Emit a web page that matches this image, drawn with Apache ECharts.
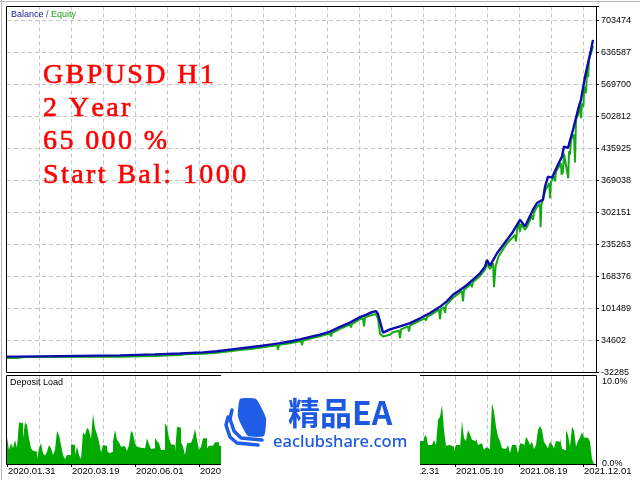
<!DOCTYPE html>
<html>
<head>
<meta charset="utf-8">
<title>GBPUSD H1 Balance / Equity</title>
<script src="https://cdn.jsdelivr.net/npm/echarts@6.0.0/dist/echarts.min.js"></script>
<style>
html,body{margin:0;padding:0;background:#ffffff;}
#chart{width:640px;height:480px;}
</style>
</head>
<body>
<div id="chart"></div>
<script>
// ---------------- data ----------------
const yTickLabels = ['-32285','34602','101489','168376','235263','302151','369038','435925','502812','569700','636587','703474'];
const yAxisMin = -32285;
const yAxisStep = 66887.18;
const xDateLabels = ['2020.01.31','2020.03.19','2020.06.01','2020.07.20','2020.09.07','2020.10.26','2020.12.31','2021.05.10','2021.08.19','2021.12.01'];
const loadTickLabels = ['0.0%', '10.0%'];
const titleLines = ['GBPUSD H1', '2 Year', '65 000 %', 'Start Bal: 1000'];

// time index (one unit = one bar slot), balance values
const balanceT = [0,5,5.5,56.5,57,74,74.5,86.5,87,98,98.5,105,105.5,115.5,121.5,126.5,131.5,136.5,141.5,146.5,151.5,156.5,161.5,166.5,171.5,176.5,179.5,182.5,184.5,185.5,188,191.5,196.5,201.5,206.5,211.5,216.5,220,223,226.5,229.5,233,236.5,239,240,241.5,245,250,253,256.5,259,263,265,268,269,270.5,272.5,275,277.5,278.5,280.5,283,285.5,287,289,290.5,292,293];
const balanceV = [1000,1000,3000,3500,5200,5500,6800,7500,9000,9800,11000,12000,13500,17500,20500,23000,26000,29000,32500,37000,42000,47000,53000,63000,72000,83500,88000,94000,96000,90000,51000,58000,64000,71000,81000,92000,105000,117000,130000,140000,149000,162000,175000,189000,203000,191000,217000,245000,262000,287000,273000,308000,322000,329000,356000,377000,375000,398000,419000,440000,437000,475000,517000,538000,586000,614000,642000,663000];

const equityT = [0,5,5.5,9,9.5,10,56.5,57,74,74.5,79,79.5,80,86.5,87,89,89.5,90,98,98.5,105,105.5,108,108.5,109,115.5,121.5,126.5,131.5,135,135.5,136,141.5,147,147.5,148,151.5,156.5,161.5,162,162.5,166.5,171.5,172,172.5,176.5,178,178.5,179,182.5,184.5,185.5,186.5,188,189,191.5,193,196,196.5,197,200.5,201,201.5,206.5,209,209.5,210,211.5,216,216.5,217,218.5,219,219.5,223,227.5,228,228.5,232,232.5,233,236.5,239,240,241.5,243,243.5,244.3,245.5,246,250,254,254.5,255,256,256.5,257,259,259.5,260,262.5,263,263.5,265,266.5,266.8,267.2,268,269,271.2,271.5,272,273.7,274,274.5,277,277.3,278,278.5,279.5,280.6,281,281.5,282,283.5,284,284.5,285.5,286.7,287,287.5,288.2,288.6,289.5,290,290.6,291,292,292.5,293];
const equityV = [-2000,-2000,0,0,-2500,0,500,2000,2000,3500,3500,1000,3500,4500,6000,6000,3500,6000,6800,8000,9000,10500,10500,7000,10500,14000,17000,19500,22500,24500,15000,25500,29000,33500,25000,34000,38500,43500,49500,43000,50000,59000,68000,61800,69000,79000,81500,63900,83000,88000,90000,80000,48600,43000,47000,46500,52000,55000,39600,58000,64000,53400,66000,76000,81000,76400,84000,87000,99000,79300,100000,104000,92500,108000,124000,138000,116100,140000,153000,146000,157000,169000,183000,196000,184000,196000,146200,189300,206800,212000,238000,255000,241500,265000,280000,262400,278000,266000,262000,272000,296000,286900,302000,314000,320000,271600,318000,322000,347000,364000,332200,366000,378000,367000,388000,405000,381000,387800,425000,428000,374000,430000,422800,455000,465000,406700,498000,505000,525000,499500,530000,523700,565000,551700,598000,585200,622000,635300,642000,650000];

// deposit load (%), one value per bar slot
const loadLeftStart = 0;
const loadLeft = [3.0,1.6,2.35,1.78,2.73,1.86,4.73,4.62,2.92,4.73,
  4.43,2.92,1.78,1.5,1.4,0.57,1.78,2.35,1.21,0.95,
  1.4,2.16,1.78,1.02,1.59,3.75,3.3,2.16,1.02,0.57,
  1.02,1.02,2.24,2.16,1.02,1.97,1.02,0.57,3.6,3.3,
  4.13,3.86,2.84,5.68,4.05,3.37,2.54,1.32,2.16,2.08,
  1.59,1.21,1.4,2.54,3.86,2.73,2.46,1.97,2.05,1.97,
  1.48,2.16,3.75,3.49,2.35,1.97,1.86,1.97,1.78,1.97,
  2.92,2.24,1.7,1.78,2.92,2.61,2.35,1.59,1.59,4.62,
  4.24,2.92,2.24,2.16,1.32,4.24,4.13,2.54,1.97,1.02,
  2.35,2.42,2.54,2.99,3.98,2.73,1.59,1.97,2.92,2.92,
  1.78,2.08,2.08,2.08,2.46,2.46,2.08,2.08,2.08];
const loadRightStart = 205.5;
const loadRight = [3.22,2.61,2.61,3.0,3.3,2.16,2.16,2.16,2.73,2.16,
  5.0,5.38,6.7,3.86,2.08,2.16,2.16,1.97,1.48,2.16,
  2.16,1.78,4.89,2.92,2.61,3.86,3.37,2.73,2.61,2.92,
  2.16,2.35,2.35,1.59,1.9,1.7,2.16,6.9,6.0,4.24,
  3.11,2.61,1.78,1.7,1.78,2.16,1.21,2.16,2.2,2.24,
  1.21,2.35,2.24,1.9,3.11,2.73,2.16,2.54,1.7,2.16,
  3.86,4.32,3.86,2.5,2.16,1.78,2.54,2.24,1.78,2.61,
  2.54,2.92,1.7,1.55,3.83,3.3,1.97,4.24,3.8,1.97,
  2.61,3.0,3.6,3.0,2.99,3.0,2.54,0.57];

// ---------------- chart ----------------
const LABEL_FONT = 'Liberation Sans';
const T_MAX = 294.5;
const Y_UNITS_MAX = 11.4375;
const gridLine = {show: true, showMinLine: false, showMaxLine: false,
  lineStyle: {color: '#c4c4c4', width: 1, type: [4, 3]}};

function pairs(ts, vs) { return ts.map((t, i) => [t, vs[i]]); }
function steps(start, vs) {
  const d = vs.map((v, i) => [start + i, v]);
  d.push([start + vs.length, vs[vs.length - 1]]);
  return d;
}
function spaced(line) { return line.split('').map(ch => '{c|' + ch + '}').join(''); }

const chart = echarts.init(document.getElementById('chart'), null, {renderer: 'canvas'});

const titleElements = titleLines.map((line, i) => ({
  type: 'text', x: 43, y: 75.5 + i * 33.3, z: 60,
  style: {
    text: spaced(line), verticalAlign: 'middle', align: 'left',
    rich: {c: {fontFamily: 'Liberation Serif', fontSize: 28, fill: '#ff0000', stroke: '#ff0000', lineWidth: 0.6,
      padding: [0, 2.4, 0, 0], lineHeight: 30}}
  }
}));

const option = {
  animation: false,
  backgroundColor: '#ffffff',
  grid: [
    {left: 7, top: 6.5, width: 589, height: 366, outerBoundsMode: 'none', containLabel: false},
    {left: 7, top: 376, width: 589, height: 88, outerBoundsMode: 'none', containLabel: false}
  ],
  xAxis: [
    {gridIndex: 0, type: 'value', min: 0, max: T_MAX, interval: 16,
      axisLine: {show: false}, axisTick: {show: false}, axisLabel: {show: false}, splitLine: gridLine},
    {gridIndex: 1, type: 'value', min: 0, max: T_MAX, interval: 16,
      axisLine: {show: false}, axisTick: {show: false}, axisLabel: {show: false}, splitLine: gridLine},
    {gridIndex: 1, type: 'value', min: 0, max: T_MAX, interval: 32, position: 'bottom',
      axisLine: {show: false},
      axisTick: {show: true, inside: false, length: 3, lineStyle: {color: '#000'}},
      axisLabel: {show: true, align: 'left', margin: 2, padding: [0, 0, 0, 1], color: '#000',
        fontFamily: LABEL_FONT, fontSize: 9.5,
        formatter: v => (v % 32 === 0 && xDateLabels[v / 32]) ? xDateLabels[v / 32] : ''},
      splitLine: {show: false}}
  ],
  yAxis: [
    {gridIndex: 0, type: 'value', position: 'left', min: yAxisMin, max: yAxisMin + Y_UNITS_MAX * yAxisStep, show: false},
    {gridIndex: 0, type: 'value', position: 'right', min: 0, max: Y_UNITS_MAX, interval: 1,
      axisLine: {show: false},
      axisTick: {show: true, inside: false, length: 3, lineStyle: {color: '#000'}},
      axisLabel: {margin: 5, color: '#000', fontFamily: LABEL_FONT, fontSize: 9,
        formatter: v => Number.isInteger(v) ? yTickLabels[v] : ''},
      splitLine: gridLine},
    {gridIndex: 1, type: 'value', position: 'right', min: 0, max: 10, interval: 10, z: 10,
      axisLine: {show: false}, axisTick: {show: false}, splitLine: {show: false},
      axisLabel: {margin: 6, color: '#000', fontFamily: LABEL_FONT, fontSize: 9,
        formatter: v => v === 10 ? '{t|' + loadTickLabels[1] + '}' : (v === 0 ? '{b|' + loadTickLabels[0] + '}' : ''),
        rich: {
          t: {padding: [11, 0, 0, 0], color: '#000', fontFamily: LABEL_FONT, fontSize: 9},
          b: {color: '#000', fontFamily: LABEL_FONT, fontSize: 9}
        }}}
  ],
  series: [
    {type: 'line', name: 'Equity', xAxisIndex: 0, yAxisIndex: 0, data: pairs(equityT, equityV),
      symbol: 'none', showSymbol: false, lineStyle: {color: '#14aa14', width: 2}, z: 3},
    {type: 'line', name: 'Balance', xAxisIndex: 0, yAxisIndex: 0, data: pairs(balanceT, balanceV),
      symbol: 'none', showSymbol: false, lineStyle: {color: '#0c0cae', width: 2.4}, z: 4},
    {type: 'line', name: 'Deposit Load', xAxisIndex: 1, yAxisIndex: 2, data: steps(loadLeftStart, loadLeft),
      step: 'end', symbol: 'none', showSymbol: false, lineStyle: {width: 0, opacity: 0},
      areaStyle: {color: '#00aa00', opacity: 1}, z: 2},
    {type: 'line', name: 'Deposit Load 2', xAxisIndex: 1, yAxisIndex: 2, data: steps(loadRightStart, loadRight),
      step: 'end', symbol: 'none', showSymbol: false, lineStyle: {width: 0, opacity: 0},
      areaStyle: {color: '#00aa00', opacity: 1}, z: 2}
  ],
  graphic: [
    {type: 'line', z: 100, shape: {x1: 0, y1: 1.5, x2: 640, y2: 1.5}, style: {stroke: '#b4b4b4', lineWidth: 1}},
    {type: 'line', z: 100, shape: {x1: 1.5, y1: 0, x2: 1.5, y2: 480}, style: {stroke: '#b4b4b4', lineWidth: 1}},
    {type: 'rect', z: 50, shape: {x: 6.5, y: 6.5, width: 590, height: 366}, style: {fill: 'none', stroke: '#000', lineWidth: 1}},
    {type: 'rect', z: 50, shape: {x: 6.5, y: 375.5, width: 590, height: 89}, style: {fill: 'none', stroke: '#000', lineWidth: 1}},
    {type: 'text', x: 11, y: 15, z: 60, style: {
      text: '{b|Balance} {s|/} {e|Equity}', verticalAlign: 'middle', fontFamily: LABEL_FONT, fontSize: 9,
      rich: {
        b: {fill: '#1a1a9a', fontFamily: LABEL_FONT, fontSize: 9},
        s: {fill: '#505080', fontFamily: LABEL_FONT, fontSize: 9},
        e: {fill: '#20a020', fontFamily: LABEL_FONT, fontSize: 9}
      }}},
    {type: 'text', x: 10, y: 383, z: 60, style: {text: 'Deposit Load', fill: '#000', fontFamily: LABEL_FONT, fontSize: 9, verticalAlign: 'middle'}},
    ...titleElements,
    {type: 'rect', z: 100, shape: {x: 598, y: 375.5, width: 42, height: 2.5}, style: {fill: '#ffffff'}},
    // watermark overlay
    {type: 'rect', z: 100, shape: {x: 221, y: 374, width: 199, height: 106}, style: {fill: '#ffffff'}},
    {type: 'polygon', z: 101, shape: {points: [[240, 399], [256, 399], [266, 418], [264, 436], [248, 436], [238, 417]], smooth: 0.15}, style: {fill: '#1f5de6'}},
    {type: 'polyline', z: 101, shape: {points: [[232, 410], [230, 419], [234, 431], [241, 438], [262, 440]]}, style: {stroke: '#1f5de6', lineWidth: 3.5, fill: null, lineJoin: 'round', lineCap: 'round'}},
    {type: 'polyline', z: 101, shape: {points: [[228, 417], [226, 425], [230, 437], [237, 443], [258, 445]]}, style: {stroke: '#1f5de6', lineWidth: 3.5, fill: null, lineJoin: 'round', lineCap: 'round'}},
    {type: 'text', x: 288, y: 413, z: 101, style: {text: '精品EA', fill: '#1c58e0', fontSize: 32, fontWeight: 'bold', fontFamily: 'Noto Sans CJK SC', verticalAlign: 'middle'}},
    {type: 'text', x: 273, y: 442, z: 101, style: {text: 'eaclubshare.com', fill: '#1c58e0', fontSize: 16.5, fontWeight: 500, fontFamily: 'Noto Sans', verticalAlign: 'middle'}}
  ]
};
chart.setOption(option);
</script>
</body>
</html>
